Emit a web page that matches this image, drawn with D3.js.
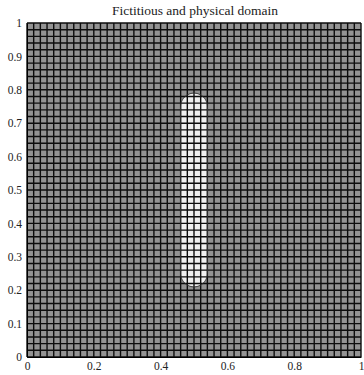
<!DOCTYPE html>
<html>
<head>
<meta charset="utf-8">
<script src="https://cdn.jsdelivr.net/npm/d3@7"></script>
<style>
  html, body { margin: 0; padding: 0; background: #fff; }
  svg { display: block; }
  text { font-family: "Liberation Serif", "DejaVu Serif", serif; fill: #222; }
</style>
</head>
<body>
<svg id="chart" width="364" height="375"></svg>
<script>
// Fictitious domain: uniform Cartesian mesh on the unit square
const meshCells = [50, 50];            // cells in x, y
const domainX = [0, 1];
const domainY = [0, 1];
// Physical domain: a stadium (capsule) around a vertical segment
const stadiumCenterX = [0.5];
const stadiumSegmentY = [0.25, 0.75];
const stadiumRadius = [0.04];
// Axis ticks
const xTicks = [0, 0.2, 0.4, 0.6, 0.8, 1];
const yTicks = [0, 0.1, 0.2, 0.3, 0.4, 0.5, 0.6, 0.7, 0.8, 0.9, 1];
const titleText = "Fictitious and physical domain";

const svg = d3.select("#chart");
const plotLeft = 27, plotRight = 361, plotTop = 23, plotBottom = 357;

const x = d3.scaleLinear().domain(domainX).range([plotLeft, plotRight]);
const y = d3.scaleLinear().domain(domainY).range([plotBottom, plotTop]);

// mesh node coordinates
const xs = d3.range(meshCells[0] + 1).map(i => domainX[0] + (domainX[1] - domainX[0]) * i / meshCells[0]);
const ys = d3.range(meshCells[1] + 1).map(j => domainY[0] + (domainY[1] - domainY[0]) * j / meshCells[1]);

// gray background cells
const cells = [];
for (let i = 0; i < meshCells[0]; i++)
  for (let j = 0; j < meshCells[1]; j++)
    cells.push({ x0: xs[i], x1: xs[i + 1], y0: ys[j], y1: ys[j + 1] });

svg.append("g")
  .selectAll("rect")
  .data(cells)
  .join("rect")
  .attr("x", d => x(d.x0))
  .attr("y", d => y(d.y1))
  .attr("width", d => x(d.x1) - x(d.x0))
  .attr("height", d => y(d.y0) - y(d.y1))
  .attr("fill", "#939393");

// stadium outline path in data coordinates, mapped through the scales
function stadiumPath() {
  const cx = stadiumCenterX[0], r = stadiumRadius[0];
  const [ya, yb] = stadiumSegmentY;
  const p = d3.path();
  const n = 40;
  const pts = [];
  // top semicircle
  for (let k = 0; k <= n; k++) {
    const t = Math.PI * k / n;
    pts.push([cx + r * Math.cos(t), yb + r * Math.sin(t)]);
  }
  // bottom semicircle
  for (let k = 0; k <= n; k++) {
    const t = Math.PI + Math.PI * k / n;
    pts.push([cx + r * Math.cos(t), ya + r * Math.sin(t)]);
  }
  pts.forEach((q, k) => k === 0 ? p.moveTo(x(q[0]), y(q[1])) : p.lineTo(x(q[0]), y(q[1])));
  p.closePath();
  return p.toString();
}

svg.append("path")
  .attr("d", stadiumPath())
  .attr("fill", "#f0f0f0");

// mesh lines
const grid = svg.append("g").attr("stroke", "#0d0d0d").attr("stroke-width", 1.4);
grid.selectAll("line.v")
  .data(xs)
  .join("line")
  .attr("class", "v")
  .attr("x1", d => x(d)).attr("x2", d => x(d))
  .attr("y1", y(domainY[0])).attr("y2", y(domainY[1]));
grid.selectAll("line.h")
  .data(ys)
  .join("line")
  .attr("class", "h")
  .attr("y1", d => y(d)).attr("y2", d => y(d))
  .attr("x1", x(domainX[0])).attr("x2", x(domainX[1]));

// stadium boundary
svg.append("path")
  .attr("d", stadiumPath())
  .attr("fill", "none")
  .attr("stroke", "#333")
  .attr("stroke-width", 1);

// axes
const xAxis = d3.axisBottom(x).tickValues(xTicks).tickSize(0).tickPadding(5)
  .tickFormat(d => d3.format("")(d));
const yAxis = d3.axisLeft(y).tickValues(yTicks).tickSize(0).tickPadding(5)
  .tickFormat(d => d3.format("")(d));

const gx = svg.append("g").attr("transform", `translate(0,${plotBottom})`).call(xAxis);
const gy = svg.append("g").attr("transform", `translate(${plotLeft},0)`).call(yAxis);
[gx, gy].forEach(g => {
  g.select(".domain").attr("stroke", "#000").attr("stroke-width", 1);
  g.selectAll("text").attr("font-size", 11.5)
    .attr("font-family", "'Liberation Serif', 'DejaVu Serif', serif").attr("fill", "#222");
});

svg.append("text")
  .attr("x", (plotLeft + plotRight) / 2 + 1)
  .attr("y", 15)
  .attr("text-anchor", "middle")
  .attr("font-size", 13.5)
  .text(titleText);
</script>
</body>
</html>
